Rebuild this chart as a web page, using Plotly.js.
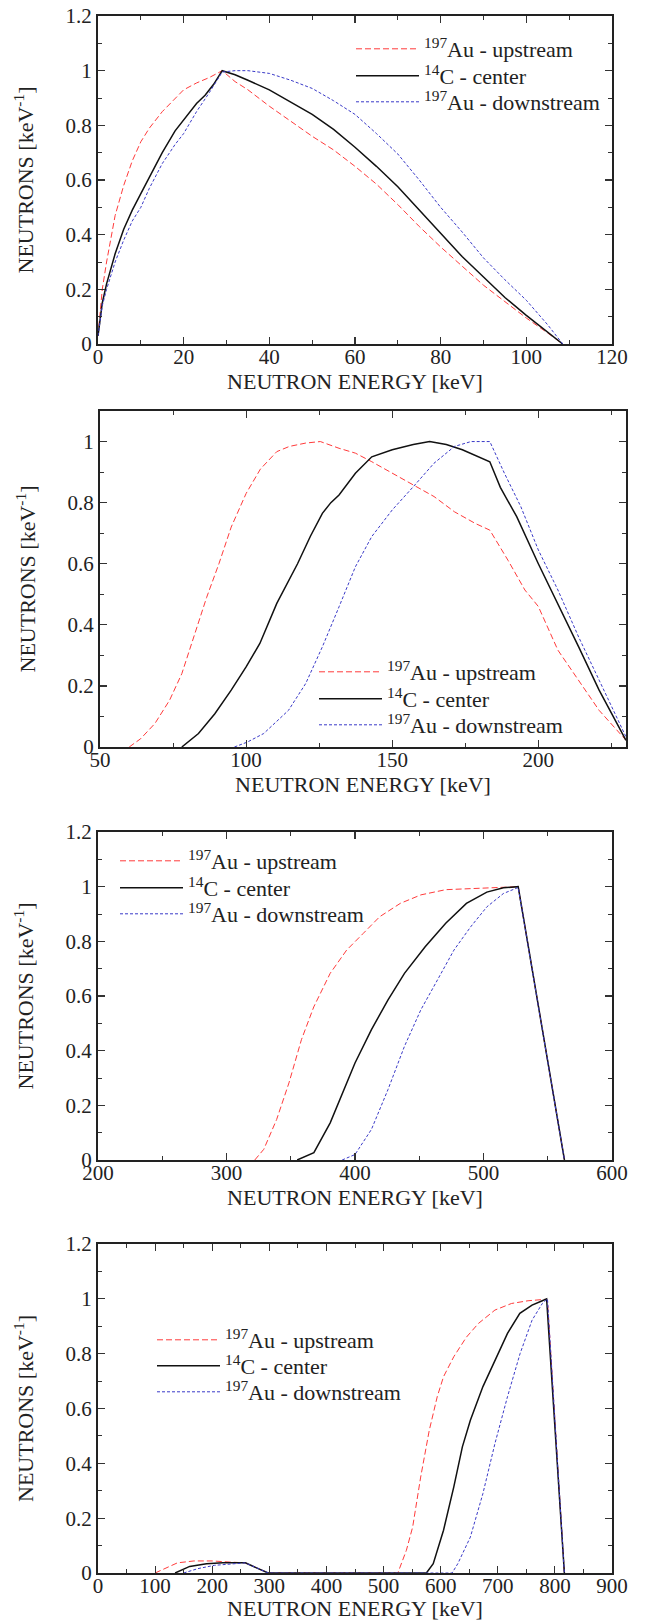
<!DOCTYPE html>
<html>
<head>
<meta charset="utf-8">
<script src="https://cdn.plot.ly/plotly-3.0.1.min.js"></script>
<style>
html, body { margin: 0; padding: 0; background: #fff; }
#chart { width: 647px; height: 1621px; }
</style>
</head>
<body>
<div id="chart"></div>
<script>
// ---------- DATA ----------
const seriesNames = ["<sup>197</sup>Au - upstream", "<sup>14</sup>C - center", "<sup>197</sup>Au - downstream"];
const xTitle = "NEUTRON ENERGY [keV]";
const yTitle = "NEUTRONS [keV<sup>-1</sup>]";

// Panel 1 (0-120 keV)
const p1UpX = [0, 1, 2, 4, 6, 8, 10, 12, 15, 18, 20, 23, 26, 29, 32, 35, 40, 45, 50, 55, 60, 65, 70, 75, 80, 85, 90, 95, 100, 105, 108.5];
const p1UpY = [0.03, 0.2, 0.3, 0.47, 0.58, 0.67, 0.74, 0.79, 0.85, 0.9, 0.93, 0.955, 0.975, 1.0, 0.96, 0.93, 0.87, 0.815, 0.76, 0.71, 0.65, 0.585, 0.51, 0.43, 0.355, 0.285, 0.215, 0.155, 0.095, 0.04, 0];
const p1CX = [0, 1, 2, 4, 6, 8, 10, 12, 15, 18, 20, 23, 25, 27, 29, 32, 35, 40, 45, 50, 55, 60, 65, 70, 75, 80, 85, 90, 95, 100, 105, 108.5];
const p1CY = [0.03, 0.15, 0.22, 0.33, 0.42, 0.49, 0.55, 0.61, 0.7, 0.78, 0.82, 0.88, 0.91, 0.95, 1.0, 0.985, 0.965, 0.93, 0.885, 0.84, 0.785, 0.72, 0.65, 0.575, 0.49, 0.405, 0.32, 0.245, 0.17, 0.105, 0.045, 0];
const p1DnX = [0, 1, 2, 4, 6, 8, 10, 12, 15, 18, 20, 23, 26, 29, 32, 35, 40, 45, 50, 55, 60, 65, 70, 75, 80, 85, 90, 95, 100, 105, 108.5];
const p1DnY = [0.03, 0.14, 0.2, 0.3, 0.38, 0.45, 0.5, 0.57, 0.66, 0.73, 0.77, 0.85, 0.92, 0.995, 1.0, 1.0, 0.99, 0.965, 0.935, 0.89, 0.84, 0.77, 0.695, 0.6, 0.5, 0.41, 0.315, 0.235, 0.16, 0.07, 0];

// Panel 2 (50-230 keV)
const p2UpX = [60, 63.9, 68.8, 73.8, 78, 82.2, 86.5, 90.7, 94.9, 100, 104.9, 110.5, 114.8, 120.4, 125.4, 131.8, 137.4, 143, 150, 157.2, 164.3, 171.3, 178.4, 183.4, 189.7, 195.4, 200, 206.7, 213.8, 220.8, 230];
const p2UpY = [0, 0.027, 0.077, 0.153, 0.24, 0.36, 0.49, 0.6, 0.72, 0.83, 0.91, 0.967, 0.984, 0.995, 1.0, 0.978, 0.962, 0.934, 0.896, 0.858, 0.82, 0.77, 0.732, 0.71, 0.61, 0.514, 0.46, 0.317, 0.219, 0.12, 0.022];
const p2CX = [78, 83.7, 89.3, 94.9, 100, 104.7, 110.5, 117.6, 122, 126.1, 129, 131.8, 137.4, 143, 150, 157.2, 162.8, 168.5, 174, 179.8, 183.4, 187, 192.6, 200, 206.7, 213.8, 220.8, 230];
const p2CY = [0, 0.044, 0.109, 0.186, 0.262, 0.339, 0.47, 0.6, 0.69, 0.765, 0.8, 0.825, 0.896, 0.95, 0.973, 0.99, 1.0, 0.99, 0.973, 0.95, 0.934, 0.85, 0.754, 0.6, 0.47, 0.328, 0.186, 0.022];
const p2DnX = [96, 100.4, 106, 114.5, 120.4, 126.1, 131.8, 137.4, 143, 150, 157.2, 164.3, 171.3, 177, 183.4, 188.4, 194, 200, 206.7, 213.8, 220.8, 230];
const p2DnY = [0, 0.016, 0.044, 0.12, 0.208, 0.328, 0.459, 0.59, 0.689, 0.776, 0.852, 0.929, 0.984, 1.0, 1.0, 0.896, 0.787, 0.645, 0.514, 0.36, 0.219, 0.033];

// Panel 3 (200-600 keV)
const p3UpX = [322, 329, 339, 348.6, 358.3, 367.9, 380.7, 393.5, 406.4, 419.2, 435.3, 451.3, 470.6, 489.9, 509, 527, 563];
const p3UpY = [0, 0.039, 0.148, 0.282, 0.44, 0.56, 0.683, 0.768, 0.829, 0.89, 0.939, 0.97, 0.989, 0.993, 0.996, 1.0, 0];
const p3CX = [355, 368, 380.7, 390.4, 400, 412.8, 425.7, 438.5, 454.6, 470.6, 486.7, 502.6, 515.5, 527, 563];
const p3CY = [0, 0.027, 0.136, 0.246, 0.355, 0.477, 0.586, 0.683, 0.78, 0.866, 0.939, 0.98, 0.996, 1.0, 0];
const p3DnX = [390, 400, 412.8, 425.7, 438.5, 451.3, 464.2, 477, 490, 502.6, 515.5, 527, 563];
const p3DnY = [0, 0.02, 0.112, 0.258, 0.416, 0.55, 0.659, 0.768, 0.853, 0.926, 0.975, 0.997, 0];

// Panel 4 (0-900 keV)
const p4UpX = [100, 117, 139, 168, 200, 229.6, 258, 298, 525, 540, 551, 565, 580, 594, 605, 623, 645, 666, 695, 724, 753, 782, 787, 816.6];
const p4UpY = [0, 0.016, 0.037, 0.044, 0.044, 0.04, 0.037, 0, 0, 0.083, 0.168, 0.35, 0.52, 0.643, 0.716, 0.789, 0.86, 0.91, 0.959, 0.983, 0.993, 0.998, 0.996, 0];
const p4CX = [135, 160.6, 190, 218.8, 258, 298, 575, 587, 605, 623, 638, 652, 674, 695, 717, 738.6, 760, 778, 785.5, 816.6];
const p4CY = [0, 0.024, 0.034, 0.037, 0.037, 0, 0, 0.034, 0.156, 0.314, 0.46, 0.557, 0.68, 0.776, 0.874, 0.947, 0.977, 0.993, 1.0, 0];
const p4DnX = [150, 175, 204, 233, 258, 298, 620, 630, 652, 674, 695, 717, 739, 760, 778, 787, 816.6];
const p4DnY = [0, 0.016, 0.028, 0.034, 0.037, 0, 0, 0.034, 0.131, 0.29, 0.472, 0.643, 0.8, 0.922, 0.983, 1.0, 0];

// ---------- LAYOUT HELPERS ----------
const W = 647, H = 1621;
const px = v => v / W;
const py = v => 1 - v / H;

const FONT = "Liberation Serif";
const TXT = "#222";

const styles = [
  {color: "#ff3b3b", width: 1, dash: "6px,3px"},
  {color: "#111111", width: 1.5, dash: "solid"},
  {color: "#3a3ac8", width: 1, dash: "3px,2px"}
];

// legend: line start x and row centre y for each of the 3 rows (px)
const panels = [
  {xs: [p1UpX, p1CX, p1DnX], ys: [p1UpY, p1CY, p1DnY], xr: [0, 120], yr: [0, 1.2], xd: 20, xm: 10,
   dom: [98, 612, 16, 344], legX: 354, legY: [49, 76, 102]},
  {xs: [p2UpX, p2CX, p2DnX], ys: [p2UpY, p2CY, p2DnY], xr: [50, 230], yr: [0, 1.1], xd: 50, xm: 25,
   dom: [100, 626, 411, 747], legX: 317, legY: [672, 699, 725]},
  {xs: [p3UpX, p3CX, p3DnX], ys: [p3UpY, p3CY, p3DnY], xr: [200, 600], yr: [0, 1.2], xd: 100, xm: 50,
   dom: [98, 612, 832, 1160], legX: 118, legY: [861, 888, 914]},
  {xs: [p4UpX, p4CX, p4DnX], ys: [p4UpY, p4CY, p4DnY], xr: [0, 900], yr: [0, 1.2], xd: 100, xm: 50,
   dom: [98, 612, 1244, 1573], legX: 155, legY: [1340, 1366, 1392]}
];

const data = [];
const layout = {
  width: W, height: H,
  margin: {l: 0, r: 0, t: 0, b: 0},
  paper_bgcolor: "#fff", plot_bgcolor: "#fff",
  font: {family: FONT, size: 21, color: TXT},
  showlegend: true
};

let legendCount = 0;
panels.forEach((p, i) => {
  const n = i + 1;
  const sfx = n === 1 ? "" : String(n);
  for (let k = 0; k < 3; k++) {
    legendCount++;
    const lg = legendCount === 1 ? "legend" : "legend" + legendCount;
    data.push({
      type: "scatter", mode: "lines",
      x: p.xs[k], y: p.ys[k],
      name: seriesNames[k],
      xaxis: "x" + sfx, yaxis: "y" + sfx,
      legend: lg,
      line: styles[k]
    });
    layout[lg] = {
      x: px(p.legX - 3), y: py(p.legY[k]), xanchor: "left", yanchor: "middle",
      bgcolor: "rgba(0,0,0,0)", borderwidth: 0,
      font: {family: FONT, size: 22, color: TXT},
      itemwidth: 63
    };
  }
  const common = {
    showline: true, linewidth: 2, linecolor: "#222", mirror: "allticks",
    ticks: "inside", ticklen: 7, tickwidth: 1.2, tickcolor: "#333",
    showgrid: false, zeroline: false,
    tickfont: {family: FONT, size: 21, color: TXT}
  };
  layout["xaxis" + sfx] = Object.assign({}, common, {
    domain: [px(p.dom[0]), px(p.dom[1])],
    range: p.xr, dtick: p.xd, tick0: 0,
    anchor: "y" + sfx,
    ticklabelstandoff: -7,
    minor: {ticks: "inside", ticklen: 4, dtick: p.xm, tickcolor: "#333", tickwidth: 1},
    title: {text: xTitle, font: {family: FONT, size: 22, color: TXT}, standoff: 0}
  });
  layout["yaxis" + sfx] = Object.assign({}, common, {
    domain: [py(p.dom[3]), py(p.dom[2])],
    range: p.yr, dtick: 0.2, tick0: 0,
    anchor: "x" + sfx,
    minor: {ticks: "inside", ticklen: 4, dtick: 0.1, tickcolor: "#333", tickwidth: 1},
    title: {text: yTitle, font: {family: FONT, size: 22, color: TXT}, standoff: 26}
  });
});

Plotly.newPlot("chart", data, layout, {displayModeBar: false, staticPlot: true});
</script>
</body>
</html>
